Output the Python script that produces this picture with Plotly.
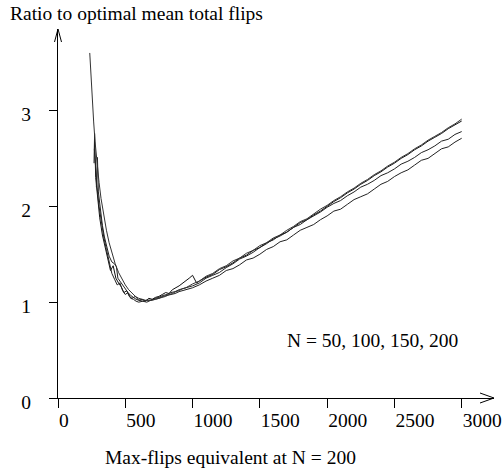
import plotly.graph_objects as go

# ---------------- data ----------------
X_RIGHT = [1050, 1100, 1150, 1200, 1250, 1300, 1350, 1400, 1450, 1500,
           1550, 1600, 1650, 1700, 1750, 1800, 1850, 1900, 1950, 2000,
           2050, 2100, 2150, 2200, 2250, 2300, 2350, 2400, 2450, 2500,
           2550, 2600, 2650, 2700, 2750, 2800, 2850, 2900, 2950, 3000]

# N = 200 (smooth start)
n200_x_left = [236, 245, 255, 265, 275, 290, 305, 320, 340, 360, 380, 400, 425, 450,
               475, 500, 525, 550, 575, 600, 625, 650, 675, 700, 725, 750, 775, 800,
               825, 850, 875, 900, 925, 950, 975, 1000]
n200_y_left = [3.60, 3.35, 3.10, 2.88, 2.68, 2.45, 2.25, 2.08, 1.90, 1.75, 1.62, 1.51,
               1.40, 1.31, 1.24, 1.18, 1.13, 1.09, 1.06, 1.04, 1.03, 1.02, 1.02, 1.02,
               1.03, 1.04, 1.05, 1.06, 1.08, 1.09, 1.11, 1.12, 1.14, 1.15, 1.17, 1.19]
n200_y_right = [1.22, 1.27, 1.30, 1.35, 1.38, 1.43, 1.46, 1.51, 1.54, 1.59,
                1.62, 1.67, 1.70, 1.75, 1.79, 1.84, 1.87, 1.92, 1.97, 2.01,
                2.06, 2.10, 2.15, 2.19, 2.24, 2.28, 2.33, 2.37, 2.42, 2.46,
                2.51, 2.55, 2.60, 2.64, 2.69, 2.73, 2.77, 2.82, 2.86, 2.91]

# N = 50 (spiky)
n50_x_left = [268, 272, 280, 295, 310, 330, 350, 370, 390, 410, 430, 450, 470, 490,
              510, 530, 550, 575, 600, 625, 650, 675, 700, 725, 750, 775, 800, 825,
              850, 900, 950, 975, 1000, 1030]
n50_y_left = [2.45, 2.76, 2.30, 2.05, 1.88, 1.70, 1.58, 1.45, 1.33, 1.38, 1.25, 1.20,
              1.16, 1.10, 1.12, 1.06, 1.04, 1.06, 1.02, 1.03, 1.01, 1.04, 1.03, 1.05,
              1.06, 1.08, 1.10, 1.09, 1.13, 1.17, 1.22, 1.25, 1.28, 1.20]
n50_y_right = [1.22, 1.26, 1.29, 1.34, 1.37, 1.41, 1.46, 1.49, 1.54, 1.57,
               1.62, 1.65, 1.70, 1.73, 1.78, 1.83, 1.86, 1.91, 1.95, 2.00,
               2.05, 2.09, 2.14, 2.18, 2.23, 2.27, 2.32, 2.36, 2.41, 2.45,
               2.50, 2.54, 2.59, 2.63, 2.68, 2.72, 2.76, 2.81, 2.85, 2.89]

# N = 100
n100_x_left = [285, 293, 300, 315, 330, 345, 360, 380, 400, 420, 434, 445, 460, 480,
               500, 520, 540, 560, 580, 600, 630, 660, 690, 720, 750, 780, 810, 840,
               870, 900, 930, 960, 1000]
n100_y_left = [2.20, 2.51, 2.15, 1.95, 1.80, 1.68, 1.58, 1.48, 1.42, 1.40, 1.37, 1.25,
               1.22, 1.18, 1.13, 1.10, 1.07, 1.05, 1.03, 1.02, 1.01, 1.02, 1.02, 1.04,
               1.05, 1.07, 1.08, 1.10, 1.11, 1.13, 1.14, 1.15, 1.17]
n100_y_right = [1.20, 1.25, 1.28, 1.31, 1.36, 1.40, 1.45, 1.48, 1.52, 1.57,
                1.61, 1.66, 1.69, 1.73, 1.78, 1.81, 1.86, 1.90, 1.94, 1.99,
                2.03, 2.06, 2.11, 2.15, 2.20, 2.23, 2.27, 2.32, 2.35, 2.39,
                2.44, 2.47, 2.51, 2.56, 2.59, 2.63, 2.68, 2.70, 2.75, 2.78]

# N = 150
n150_x_left = [270, 280, 290, 305, 320, 340, 360, 380, 400, 420, 440, 460, 480, 500,
               520, 540, 560, 580, 600, 630, 660, 690, 720, 750, 780, 810, 840, 870,
               900, 930, 960, 1000]
n150_y_left = [2.60, 2.35, 2.20, 2.00, 1.85, 1.68, 1.55, 1.42, 1.30, 1.24, 1.18, 1.20,
               1.12, 1.08, 1.10, 1.04, 1.03, 1.01, 1.00, 1.01, 1.00, 1.02, 1.03, 1.04,
               1.06, 1.07, 1.08, 1.09, 1.11, 1.12, 1.13, 1.15]
n150_y_right = [1.18, 1.22, 1.25, 1.28, 1.33, 1.35, 1.39, 1.44, 1.46, 1.50,
                1.55, 1.58, 1.63, 1.65, 1.70, 1.75, 1.78, 1.81, 1.86, 1.90,
                1.95, 1.97, 2.02, 2.07, 2.10, 2.13, 2.18, 2.23, 2.26, 2.31,
                2.35, 2.38, 2.43, 2.48, 2.50, 2.55, 2.60, 2.62, 2.67, 2.71]

x_ticks = [0, 500, 1000, 1500, 2000, 2500, 3000]
y_ticks = [0, 1, 2, 3]

series = [
    ("N = 50", n50_x_left, n50_y_left, n50_y_right, "#111111"),
    ("N = 100", n100_x_left, n100_y_left, n100_y_right, "#222222"),
    ("N = 150", n150_x_left, n150_y_left, n150_y_right, "#222222"),
    ("N = 200", n200_x_left, n200_y_left, n200_y_right, "#333333"),
]

FONT = "Liberation Serif, Times New Roman, serif"
FS = 19.5

fig = go.Figure()
for name, xl, yl, yr, col in series:
    fig.add_trace(go.Scatter(x=xl + X_RIGHT, y=yl + yr, mode="lines", name=name,
                             line=dict(color=col, width=1)))

fig.update_layout(
    template="none",
    width=503, height=474,
    margin=dict(l=58, r=9, t=29, b=76, pad=0),
    plot_bgcolor="white", paper_bgcolor="white",
    showlegend=False,
    font=dict(family=FONT, size=FS, color="black"),
    xaxis=dict(range=[0, 3240], tickvals=x_ticks, ticktext=[str(v) for v in x_ticks],
               ticks="outside", ticklen=9, tickwidth=1, tickcolor="black",
               showline=True, linecolor="black", linewidth=1,
               showgrid=False, zeroline=False, automargin=False,
               ticklabelposition="outside right", ticklabelstandoff=5),
    yaxis=dict(range=[0, 3.85], tickvals=y_ticks, ticktext=[str(v) for v in y_ticks],
               ticks="outside", ticklen=8, tickwidth=1, tickcolor="black",
               showline=True, linecolor="black", linewidth=1,
               showgrid=False, zeroline=False, automargin=False,
               ticklabelstandoff=14, ticklabelshift=4),
)

# axis arrowheads (open chevrons), anchored to the plot-area corners (paper refs => not clipped)
fig.add_shape(type="path", xref="paper", yref="paper", xsizemode="pixel", ysizemode="pixel",
              xanchor=1, yanchor=0, path="M-14,5 L0,0 L-14,-5",
              line=dict(color="black", width=1))
fig.add_shape(type="path", xref="paper", yref="paper", xsizemode="pixel", ysizemode="pixel",
              xanchor=0, yanchor=1, path="M-3.5,-13 L0,0 L3.5,-13",
              line=dict(color="black", width=1))

fig.add_annotation(text="Ratio to optimal mean total flips", xref="paper", yref="paper",
                   x=-0.1147, y=1.0407, xanchor="left", yanchor="middle", showarrow=False,
                   font=dict(family=FONT, size=FS))
fig.add_annotation(text="Max-flips equivalent at N = 200", xref="paper", yref="paper",
                   x=0.3945, y=-0.1626, xanchor="center", yanchor="middle", showarrow=False,
                   font=dict(family=FONT, size=FS))
fig.add_annotation(text="N = 50, 100, 150, 200", xref="x", yref="y",
                   x=1686, y=0.6, xanchor="left", yanchor="middle", showarrow=False,
                   font=dict(family=FONT, size=FS))

fig.write_html("out.html", config={"displayModeBar": False},
               post_script="document.body.style.margin='0';")
